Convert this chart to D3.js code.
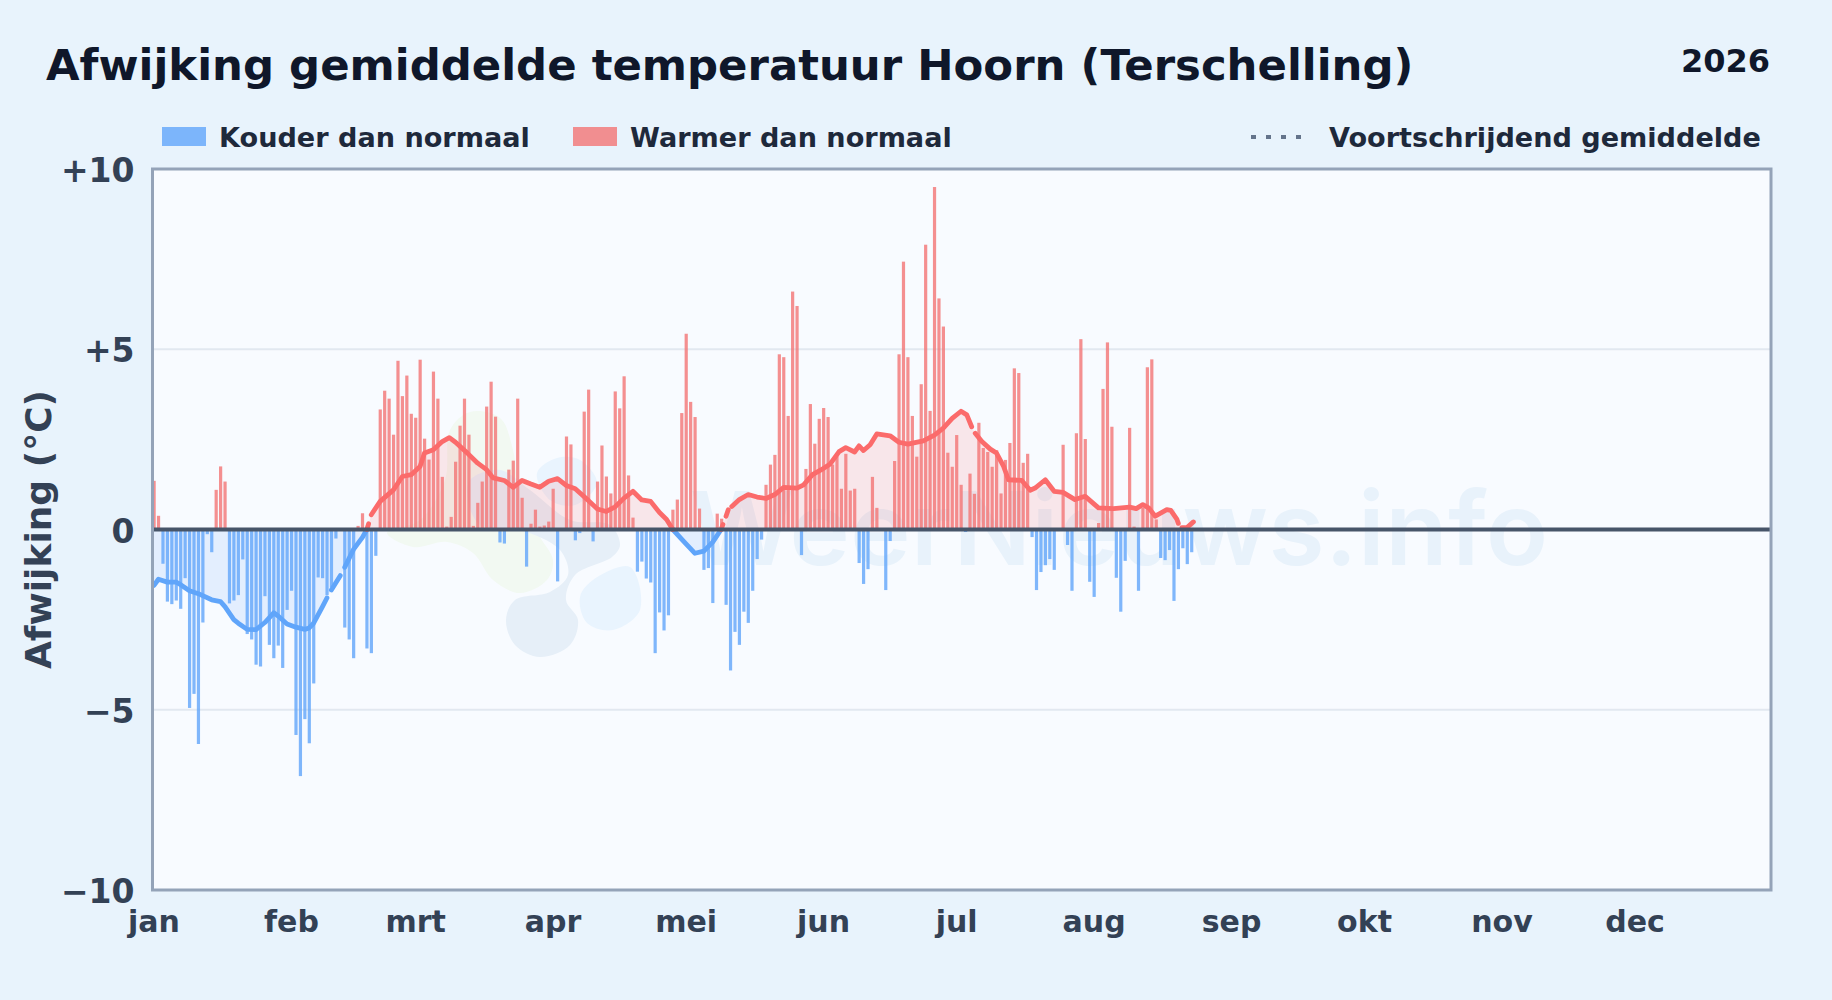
<!DOCTYPE html>
<html>
<head>
<meta charset="utf-8">
<script src="https://cdn.jsdelivr.net/npm/d3@7"></script>
<style>
  html, body { margin: 0; background: #e8f3fc; }
  svg { display: block; font-family: "DejaVu Sans", sans-serif; font-weight: 700; }
  .tick line, .domain { display: none; }
</style>
</head>
<body>
<svg id="chart" width="1832" height="1000"></svg>
<script>
const monthLabels = ["jan", "feb", "mrt", "apr", "mei", "jun", "jul", "aug", "sep", "okt", "nov", "dec"];
const monthStarts = [0, 31, 59, 90, 120, 151, 181, 212, 243, 273, 304, 334];
const yTicks = [-10, -5, 0, 5, 10];

// daily anomaly, Jan 1 onwards
const anomaly = [
  1.35, 0.38, -0.95, -2.0, -2.07, -1.97, -2.2, -1.35, -4.95, -4.56,
  -5.95, -2.58, -0.13, -0.63, 1.1, 1.75, 1.33, -2.05, -1.97, -1.82,
  -0.83, -2.9, -3.05, -3.75, -3.8, -1.85, -3.2, -3.57, -3.22, -3.84,
  -2.23, -1.7, -5.7, -6.84, -5.26, -5.93, -4.27, -1.33, -1.35, -1.82,
  -1.6, -0.25, 0, -2.72, -3.05, -3.57, 0.1, 0.45, -3.3, -3.43,
  -0.73, 3.33, 3.85, 3.63, 2.63, 4.68, 3.7, 4.27, 3.21, 3.1,
  4.71, 2.52, 1.94, 4.38, 3.63, 1.46, 0.08, 0.35, 1.88, 2.88,
  3.63, 2.63, 0.1, 0.74, 1.33, 3.41, 4.1, 3.13, -0.36, -0.39,
  1.66, 1.91, 3.63, 0.88, -1.03, 0.16, 0.55, 0.08, 0.11, 0.22,
  1.13, -1.44, 0, 2.58, 2.36, -0.3, -0.1, 3.27, 3.88, -0.33,
  1.33, 2.33, 1.47, 1.0, 3.83, 3.36, 4.25, 1.5, 0.33, -1.17,
  -0.89, -1.36, -1.47, -3.43, -2.3, -2.8, -2.38, 0.55, 0.83, 3.23,
  5.43, 3.54, 3.12, 0.58, -1.12, -1.07, -2.04, 0.44, 0.3, -2.09,
  -3.91, -2.84, -3.2, -2.28, -2.59, -1.7, -0.82, -0.28, 1.24, 1.8,
  2.07, 4.86, 4.78, 3.15, 6.6, 6.2, -0.71, 1.68, 3.48, 2.38,
  3.07, 3.37, 3.12, 1.8, 2.03, 1.13, 2.1, 1.08, 1.13, -0.93,
  -1.51, -1.1, 1.46, 0.6, 0, -1.68, -0.32, 1.9, 4.86, 7.43,
  4.78, 3.15, 2.02, 4.03, 7.9, 3.29, 9.5, 6.41, 5.63, 2.13,
  1.74, 2.62, 1.24, -0.07, 1.55, 0.99, 2.96, 2.26, 2.15, 1.74,
  2.2, 1.0, 1.93, 2.4, 4.47, 4.34, 1.85, 2.1, -0.21, -1.68,
  -1.18, -0.99, -0.82, -1.12, 0, 2.35, -0.43, -1.7, 2.67, 5.28,
  2.51, -1.45, -1.87, 0.18, 3.9, 5.19, 2.85, -1.34, -2.28, -0.87,
  2.82, 0.08, -1.7, 0.6, 4.5, 4.72, 0.28, -0.79, -0.85, -0.57,
  -1.98, -1.1, -0.52, -0.96, -0.63
];

// moving average read at knots; null = small break in the drawn line
const maDays = [
  0, 1, 3, 5, 6, 8, 10, 13, 15, 16,
  18, 19, 21, 23, 25, 27, 28, 30, 32, 34,
  35, 36, 38, 39, 39.6, 40, 42, 42.4, 43, 44,
  45, 47, 48, 48.4, 48.7, 49, 51, 54, 56, 58,
  60, 61, 63, 65, 66.6, 68, 70.5, 73, 75, 76.5,
  79, 81, 83, 85, 87, 89, 91, 93, 95, 98,
  100, 102, 104, 106, 108, 110, 112, 114, 115.6, 117,
  119.4, 122, 124, 126, 127.9, 128.3, 128.7, 129, 129.5, 129.9,
  130.3, 132, 134, 136, 138, 140, 142, 145, 146.5, 148.5,
  150.5, 152.5, 154.5, 156, 158, 159, 160, 161.5, 163, 166,
  168, 170, 173.5, 176, 178, 180, 182, 183.3, 184.4, 184.8,
  185.2, 186.7, 188.6, 190, 191.6, 192.7, 195.7, 197.6, 198.7, 201,
  203, 205, 207.7, 210, 213, 216.4, 220, 221.5, 223, 224.3,
  225.8, 228.4, 229.3, 230.7, 231, 231.4, 231.8, 232.9, 234.4
];
const maValues = [
  -1.55, -1.38, -1.46, -1.46, -1.53, -1.70, -1.78, -1.95, -2.00, -2.14,
  -2.50, -2.60, -2.77, -2.78, -2.58, -2.31, -2.40, -2.62, -2.71, -2.77,
  -2.73, -2.60, -2.14, -1.90, null, -1.68, -1.28, null, -1.05, -0.80,
  -0.55, -0.22, 0, 0.16, null, 0.41, 0.78, 1.10, 1.47, 1.52,
  1.75, 2.12, 2.21, 2.44, 2.55, 2.42, 2.14, 1.84, 1.66, 1.43,
  1.36, 1.17, 1.36, 1.26, 1.17, 1.34, 1.41, 1.22, 1.13, 0.80,
  0.57, 0.50, 0.63, 0.87, 1.06, 0.82, 0.78, 0.47, 0.28, 0,
  -0.32, -0.66, -0.60, -0.35, 0, 0.14, null, 0.37, 0.55, null,
  0.64, 0.83, 0.97, 0.90, 0.86, 0.97, 1.17, 1.15, 1.24, 1.52,
  1.66, 1.82, 2.16, 2.27, 2.15, 2.32, 2.19, 2.35, 2.65, 2.60,
  2.42, 2.37, 2.46, 2.62, 2.81, 3.08, 3.28, 3.18, 2.85, null,
  2.67, 2.44, 2.23, 2.12, 1.75, 1.38, 1.36, 1.09, 1.15, 1.38,
  1.06, 1.03, 0.83, 0.92, 0.60, 0.58, 0.62, 0.58, 0.69, 0.60,
  0.37, 0.55, 0.53, 0.28, 0.17, null, 0.05, 0.05, 0.21
];

const coldColor = "#60a5fa";
const warmColor = "#f37474";
const warmLine = "#fb6b6b";

const svg = d3.select("#chart");
const margin = { top: 169, right: 61, bottom: 110, left: 152.5 };
const width = 1832;
const height = 1000;
const x = d3.scaleLinear().domain([0, 365]).range([margin.left, width - margin.right]);
const y = d3.scaleLinear().domain([-10, 10]).range([height - margin.bottom, margin.top]);
const barW = 3.2;

svg.append("defs").append("clipPath").attr("id", "plot-clip")
  .append("rect")
  .attr("x", margin.left).attr("y", margin.top)
  .attr("width", x(365) - x(0)).attr("height", y(-10) - y(10));

// plot background
svg.append("rect")
  .attr("x", margin.left).attr("y", margin.top)
  .attr("width", x(365) - x(0)).attr("height", y(-10) - y(10))
  .attr("fill", "#f8fbff");

// Watermark: logo blobs + site name
const blob = d3.line().curve(d3.curveCatmullRomClosed);
const gMark = svg.append("g").attr("clip-path", "url(#plot-clip)");
gMark.append("path")
  .attr("d", blob([[387,533],[413,547],[447,542],[473,553],[493,580],[520,593],[547,580],[553,560],[540,537],[520,500],[513,450],[500,418],[470,412],[450,430],[445,480],[420,520]]))
  .attr("fill", "#f2f9f2");
gMark.append("path")
  .attr("d", blob([[470,480],[500,470],[530,490],[570,520],[610,525],[620,545],[612,557],[575,575],[566,600],[578,620],[570,645],[540,657],[515,645],[506,620],[515,600],[550,592],[568,575],[560,550],[520,530],[480,525],[468,500]]))
  .attr("fill", "#e6eff8");
gMark.append("path")
  .attr("d", blob([[580,597],[593,580],[630,567],[640,610],[613,630],[587,623]]))
  .attr("fill", "#e9f4fe");
gMark.append("path")
  .attr("d", blob([[537,473],[557,458],[580,460],[597,483],[575,505],[550,500]]))
  .attr("fill", "#e9f4fe");
gMark.append("text")
  .attr("x", 690).attr("y", 565)
  .attr("font-family", "Inter")
  .attr("font-size", 102)
  .attr("font-weight", 600)
  .attr("fill", "#e8f2fb")
  .attr("textLength", 858)
  .text("WeerNieuws.info");

// grid lines
svg.append("g").selectAll("line")
  .data(yTicks.filter(d => Math.abs(d) === 5))
  .enter().append("line")
  .attr("x1", margin.left).attr("x2", x(365))
  .attr("y1", d => y(d)).attr("y2", d => y(d))
  .attr("stroke", "#e2e8f0").attr("stroke-width", 2);

// moving average data, split by sign
const maPoints = maDays.map((d, i) => ({ day: d, value: maValues[i] }));
const maKnown = maPoints.filter(d => d.value !== null);

const gPlot = svg.append("g").attr("clip-path", "url(#plot-clip)");

[
  { color: coldColor, test: v => v <= 0 },
  { color: warmLine, test: v => v >= 0 }
].forEach(s => {
  gPlot.append("path")
    .attr("d", d3.area()
      .defined(d => s.test(d.value))
      .x(d => x(d.day) + 1.5)
      .y0(y(0))
      .y1(d => y(d.value))(maKnown))
    .attr("fill", s.color)
    .attr("fill-opacity", 0.14);
});

// bars
gPlot.append("g").selectAll("rect")
  .data(anomaly)
  .enter().append("rect")
  .attr("x", (d, i) => x(i))
  .attr("width", barW)
  .attr("y", d => y(Math.max(d, 0)))
  .attr("height", d => Math.abs(y(d) - y(0)))
  .attr("fill", d => d < 0 ? coldColor : warmColor)
  .attr("fill-opacity", 0.8);

// moving average lines
[
  { color: coldColor, test: v => v !== null && v <= 0 },
  { color: warmLine, test: v => v !== null && v >= 0 }
].forEach(s => {
  gPlot.append("path")
    .attr("d", d3.line()
      .defined(d => s.test(d.value))
      .x(d => x(d.day) + 1.5)
      .y(d => y(d.value))(maPoints))
    .attr("fill", "none")
    .attr("stroke", s.color)
    .attr("stroke-width", 4.8)
    .attr("stroke-linejoin", "round")
    .attr("stroke-linecap", "round");
});

// zero line
svg.append("line")
  .attr("x1", margin.left).attr("x2", x(365))
  .attr("y1", y(0)).attr("y2", y(0))
  .attr("stroke", "#475569").attr("stroke-width", 4);

// frame
svg.append("rect")
  .attr("x", margin.left).attr("y", margin.top)
  .attr("width", x(365) - x(0)).attr("height", y(-10) - y(10))
  .attr("fill", "none")
  .attr("stroke", "#94a3b8").attr("stroke-width", 3);

// axes
const yAxis = d3.axisLeft(y).tickValues(yTicks).tickSize(0).tickPadding(18)
  .tickFormat(d => d > 0 ? `+${d}` : d < 0 ? `\u2212${-d}` : "0");
svg.append("g")
  .attr("transform", `translate(${margin.left},2)`)
  .call(yAxis)
  .call(g => g.selectAll("text")
    .attr("font-family", "DejaVu Sans")
    .attr("font-size", 33).attr("font-weight", 700).attr("fill", "#334155"));

const xAxis = d3.axisBottom(x).tickValues(monthStarts).tickSize(0).tickPadding(21)
  .tickFormat((d, i) => monthLabels[i]);
svg.append("g")
  .attr("transform", `translate(1,${height - margin.bottom})`)
  .call(xAxis)
  .call(g => g.selectAll("text")
    .attr("font-family", "DejaVu Sans")
    .attr("font-size", 30).attr("font-weight", 700).attr("fill", "#334155"));

svg.append("text")
  .attr("transform", `translate(51,${y(0)}) rotate(-90)`)
  .attr("text-anchor", "middle")
  .attr("font-size", 36).attr("fill", "#334155")
  .text("Afwijking (°C)");

// titles
svg.append("text")
  .attr("x", 46).attr("y", 80)
  .attr("font-size", 43.4).attr("fill", "#0f172a")
  .text("Afwijking gemiddelde temperatuur Hoorn (Terschelling)");
svg.append("text")
  .attr("x", 1770).attr("y", 72)
  .attr("text-anchor", "end")
  .attr("font-size", 32).attr("fill", "#0f172a")
  .text("2026");

// legend
const legendItems = [
  { label: "Kouder dan normaal", color: coldColor, x: 162 },
  { label: "Warmer dan normaal", color: warmColor, x: 573 }
];
legendItems.forEach(d => {
  svg.append("rect")
    .attr("x", d.x).attr("y", 127)
    .attr("width", 44).attr("height", 19)
    .attr("fill", d.color).attr("fill-opacity", 0.8);
  svg.append("text")
    .attr("x", d.x + 57).attr("y", 146.5)
    .attr("font-size", 27.1).attr("fill", "#1e293b")
    .text(d.label);
});
svg.append("line")
  .attr("x1", 1251).attr("x2", 1309)
  .attr("y1", 137).attr("y2", 137)
  .attr("stroke", "#64748b").attr("stroke-width", 4)
  .attr("stroke-dasharray", "5 10");
svg.append("text")
  .attr("x", 1329).attr("y", 146.5)
  .attr("font-size", 27.1).attr("fill", "#1e293b")
  .text("Voortschrijdend gemiddelde");
</script>
</body>
</html>
